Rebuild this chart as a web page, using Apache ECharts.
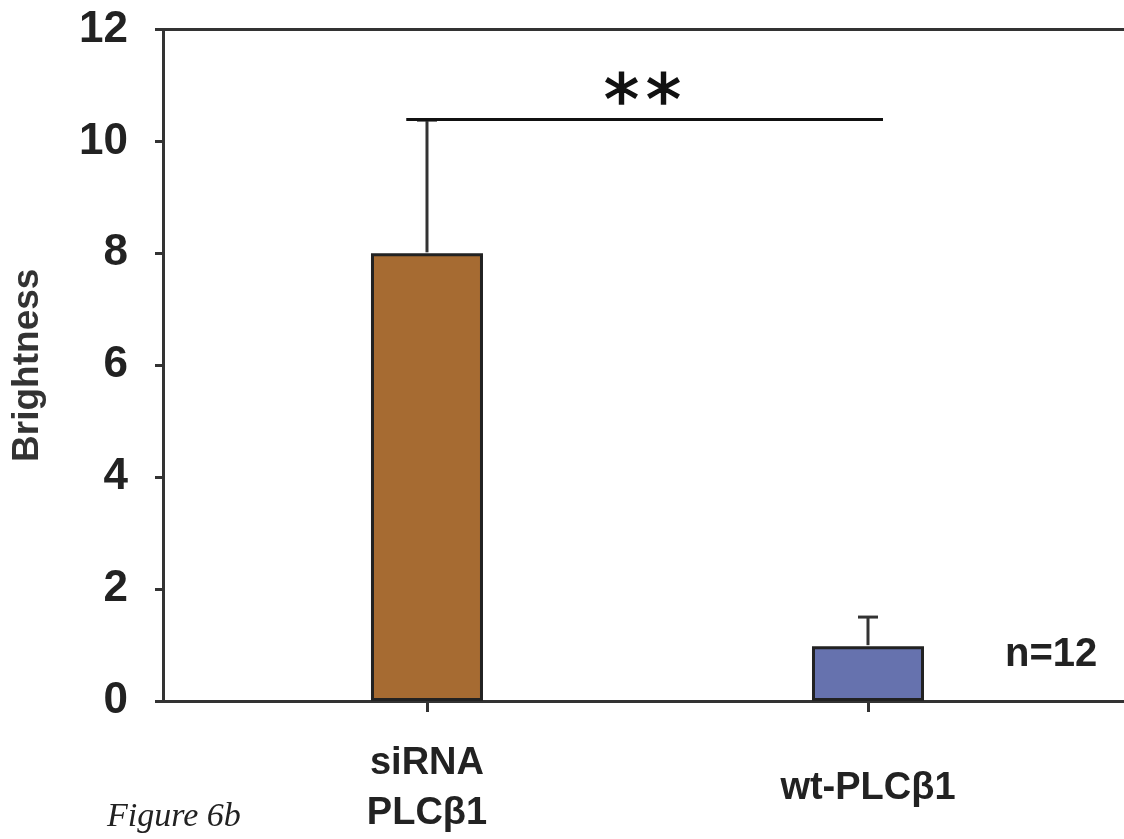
<!DOCTYPE html>
<html>
<head>
<meta charset="utf-8">
<script src="https://cdn.jsdelivr.net/npm/echarts@6/dist/echarts.min.js"></script>
<style>
html,body{margin:0;padding:0;background:#fff;}
#chart{width:1124px;height:839px;}
</style>
</head>
<body>
<div id="chart"></div>
<script>
// ---- data ----
const categories = ['siRNA\nPLCβ1', 'wt-PLCβ1'];
const means = [8.0, 0.98];
const errUp = [2.38, 0.52];
const barColors = ['#A66B32', '#6672AE'];
const yTicks = [0, 2, 4, 6, 8, 10, 12];
const sigFrom = 0.953;   // bracket start (category scale)
const sigTo = 2.034;     // bracket end
const sigY = 10.39;      // bracket height (value scale)
const sigLabel = '**';
const nLabel = 'n=12';
const figLabel = 'Figure 6b';
const yName = 'Brightness';

// ---- chart ----
const positions = categories.map((c, i) => i + 1);
const xMin = 0.4014, xMax = 2.5805;
const axisColor = '#333';

const chart = echarts.init(document.getElementById('chart'));
const option = {
  animation: false,
  backgroundColor: '#fff',
  grid: { left: 163, right: 0, top: 29.5, bottom: 136 },
  xAxis: [{
    type: 'value', min: xMin, max: xMax, position: 'bottom',
    splitLine: { show: false },
    axisLine: { onZero: false, lineStyle: { color: axisColor, width: 3 } },
    axisTick: { customValues: positions, length: 11, lineStyle: { color: axisColor, width: 3 } },
    axisLabel: {
      customValues: positions,
      formatter: v => categories[Math.round(v) - 1],
      fontSize: 38, fontWeight: 'bold', fontFamily: 'Liberation Sans',
      color: '#222', lineHeight: 50, margin: 88, verticalAlign: 'middle'
    }
  }, {
    type: 'value', min: xMin, max: xMax, position: 'top',
    splitLine: { show: false },
    axisLine: { onZero: false, lineStyle: { color: axisColor, width: 3 } },
    axisTick: { show: false }, axisLabel: { show: false }
  }],
  yAxis: {
    type: 'value', min: yTicks[0], max: yTicks[yTicks.length - 1], interval: yTicks[1] - yTicks[0],
    splitLine: { show: false },
    axisLine: { show: true, onZero: false, lineStyle: { color: axisColor, width: 3 } },
    axisTick: { show: true, length: 8, lineStyle: { color: axisColor, width: 3 } },
    axisLabel: { fontSize: 44, fontWeight: 'bold', fontFamily: 'Liberation Sans', color: '#222', margin: 35 },
    name: yName, nameLocation: 'middle', nameRotate: 90, nameGap: 117,
    nameTextStyle: { fontSize: 37, fontWeight: 'bold', fontFamily: 'Liberation Sans', color: '#333' }
  },
  series: [{
    type: 'bar',
    barWidth: 112,
    data: means.map((m, i) => ({
      value: [positions[i], m],
      itemStyle: { color: barColors[i], borderColor: '#222', borderWidth: 3 }
    })),
    z: 2
  }, {
    type: 'custom',
    z: 3,
    data: means.map((m, i) => [positions[i], m, errUp[i]]),
    renderItem: (params, api) => {
      const x = api.value(0), m = api.value(1), e = api.value(2);
      const top = api.coord([x, m + e]);
      const base = api.coord([x, m]);
      const st = { stroke: '#333', lineWidth: 3 };
      return {
        type: 'group', children: [
          { type: 'line', shape: { x1: top[0], y1: top[1], x2: base[0], y2: base[1] - 1 }, style: st },
          { type: 'line', shape: { x1: top[0] - 10, y1: top[1], x2: top[0] + 10, y2: top[1] }, style: st }
        ]
      };
    }
  }, {
    type: 'custom',
    z: 4,
    data: [[sigFrom, sigTo, sigY]],
    renderItem: (params, api) => {
      const a = api.coord([api.value(0), api.value(2)]);
      const b = api.coord([api.value(1), api.value(2)]);
      const mid = (a[0] + b[0]) / 2;
      const chars = sigLabel.split('');
      const children = [
        { type: 'line', shape: { x1: a[0], y1: a[1], x2: b[0], y2: b[1] }, style: { stroke: '#111', lineWidth: 3 } }
      ];
      chars.forEach((ch, k) => {
        children.push({
          type: 'text',
          style: {
            text: ch, x: mid - 2 + (k - (chars.length - 1) / 2) * 42, y: a[1] - 14,
            align: 'center', verticalAlign: 'middle',
            fontSize: 70, fontFamily: 'DejaVu Sans', fill: '#111',
            stroke: '#111', lineWidth: 1.5
          }
        });
      });
      return { type: 'group', children };
    }
  }],
  graphic: [{
    type: 'text', left: 1005, top: 635,
    style: { text: nLabel, fontSize: 40, fontWeight: 'bold', fontFamily: 'Liberation Sans', fill: '#222' }
  }, {
    type: 'text', left: 107, top: 800,
    style: { text: figLabel, fontSize: 34, fontStyle: 'italic', fontFamily: 'Liberation Serif', fill: '#222' }
  }]
};
chart.setOption(option);
</script>
</body>
</html>
